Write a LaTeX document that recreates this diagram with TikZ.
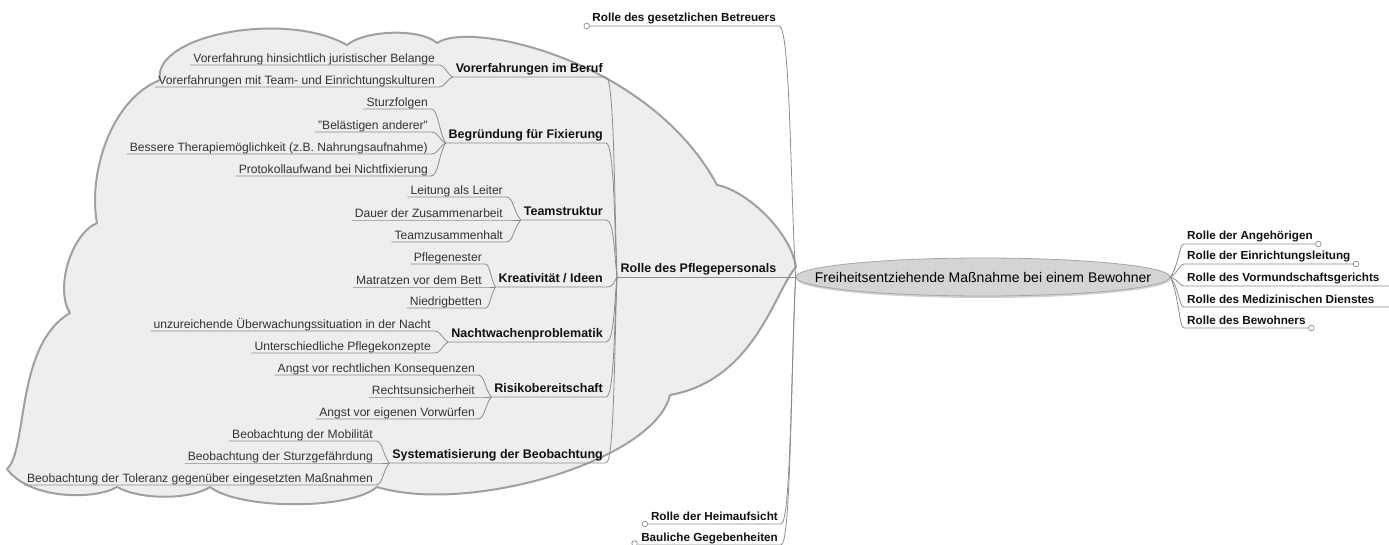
\documentclass[tikz,border=0pt]{standalone}
\usepackage{fontspec}
\setmainfont{Liberation Sans}
\usetikzlibrary{shapes.geometric,calc,shadows}
\definecolor{cloudfill}{HTML}{EEEEEE}
\definecolor{cloudline}{HTML}{A0A0A0}
\definecolor{linec}{HTML}{8C8C8C}
\definecolor{leaftext}{HTML}{333333}
\definecolor{boldtext}{HTML}{111111}
\definecolor{rootfill}{HTML}{D4D4D4}
\definecolor{rootline}{HTML}{A5A5A5}
\tikzset{
  leaf/.style={anchor=south east, inner xsep=3pt, inner ysep=0.2pt, text depth=2.5pt,
    text=leaftext, font=\fontsize{12.1pt}{14pt}\selectfont},
  sub/.style={anchor=south east, inner xsep=3pt, inner ysep=1.3pt, text depth=2.7pt,
    text=boldtext, font=\fontsize{12.5pt}{15pt}\selectfont\bfseries},
  top/.style={inner xsep=3pt, inner ysep=1.3pt, text depth=2.5pt,
    text=boldtext, font=\fontsize{11.7pt}{14pt}\selectfont\bfseries},
  conn/.style={draw=linec, line width=0.8pt},
  mmlink/.style={to path={let \p1=(\tikztostart), \p2=(\tikztotarget),
      \n1={\x1+#1*(\x2-\x1)}, \n2={\y1+0.6*(\y2-\y1)} in
      .. controls (\n1,\y1) and (\n1,\n2) .. (\tikztotarget) \tikztonodes}},
  mmlink/.default=0.5,
  knob/.style={draw=linec, fill=white, line width=0.7pt},
  cloudshape/.style={fill=cloudfill, draw=cloudline, line width=2pt, line join=round},
  rootshape/.style={ellipse, draw=rootline, fill=rootfill, line width=0.8pt,
    minimum width=374pt, minimum height=38pt, inner sep=0pt,
    drop shadow={shadow xshift=0.5pt, shadow yshift=-2pt, fill=black!30, opacity=0.6}},
}
\begin{document}
\begin{tikzpicture}[x=1pt,y=-1pt]
\useasboundingbox (0,0) rectangle (1389,545);

% cloud around the Pflegepersonal subtree
\draw[cloudshape] (7,469)
  .. controls (28,450) and (15,345) .. (70,313)
  .. controls (55,290) and (70,235) .. (97,223)
  .. controls (88,175) and (110,100) .. (160,80)
  .. controls (152,35) and (285,10) .. (347,45)
  .. controls (365,30) and (420,28) .. (437,43)
  .. controls (470,20) and (650,60) .. (717,185)
  .. controls (745,190) and (790,230) .. (796,267)
  .. controls (775,290) and (755,380) .. (670,395)
  .. controls (655,460) and (470,515) .. (377,487)
  .. controls (350,510) and (240,510) .. (210,487)
  .. controls (190,500) and (140,500) .. (117,487)
  .. controls (95,500) and (30,500) .. (7,469) -- cycle;

% central topic
\node[rootshape] (root) at (983,277)
  {\makebox[0pt]{\fontsize{14pt}{16pt}\selectfont Freiheitsentziehende Maßnahme bei einem Bewohner}};

% main branch
\node[sub, inner xsep=3.5pt] (pp) at (780,277) {Rolle des Pflegepersonals};

% subtopics
\node[sub] (gVE) at (606,77)  {Vorerfahrungen im Beruf};
\node[sub] (gBF) at (606,143) {Begründung für Fixierung};
\node[sub] (gTS) at (606,220) {Teamstruktur};
\node[sub] (gKI) at (606,287) {Kreativität / Ideen};
\node[sub] (gNW) at (606,342) {Nachtwachenproblematik};
\node[sub] (gRB) at (606,397) {Risikobereitschaft};
\node[sub] (gSB) at (606,463) {Systematisierung der Beobachtung};

% leaves
\node[leaf] (ve1) at (438,65) {Vorerfahrung hinsichtlich juristischer Belange};
\node[leaf] (ve2) at (438,87) {Vorerfahrungen mit Team- und Einrichtungskulturen};
\node[leaf] (bf1) at (431,109) {Sturzfolgen};
\node[leaf] (bf2) at (431,132) {"Belästigen anderer"};
\node[leaf] (bf3) at (431,154) {Bessere Therapiemöglichkeit (z.B. Nahrungsaufnahme)};
\node[leaf] (bf4) at (431,176) {Protokollaufwand bei Nichtfixierung};
\node[leaf] (ts1) at (506,197) {Leitung als Leiter};
\node[leaf] (ts2) at (506,220) {Dauer der Zusammenarbeit};
\node[leaf] (ts3) at (506,242) {Teamzusammenhalt};
\node[leaf] (ki1) at (485,264) {Pflegenester};
\node[leaf] (ki2) at (485,287) {Matratzen vor dem Bett};
\node[leaf] (ki3) at (485,308) {Niedrigbetten};
\node[leaf] (nw1) at (434,331) {unzureichende Überwachungssituation in der Nacht};
\node[leaf] (nw2) at (434,353) {Unterschiedliche Pflegekonzepte};
\node[leaf] (rb1) at (478,375) {Angst vor rechtlichen Konsequenzen};
\node[leaf] (rb2) at (478,397) {Rechtsunsicherheit};
\node[leaf] (rb3) at (478,419) {Angst vor eigenen Vorwürfen};
\node[leaf] (sb1) at (376,441) {Beobachtung der Mobilität};
\node[leaf] (sb2) at (376,463) {Beobachtung der Sturzgefährdung};
\node[leaf] (sb3) at (376,485) {Beobachtung der Toleranz gegenüber eingesetzten Maßnahmen};

% other top-level topics, left
\node[top, anchor=south east] (betr) at (779,26)  {Rolle des gesetzlichen Betreuers};
\node[top, anchor=south east] (heim) at (781,524) {Rolle der Heimaufsicht};
\node[top, anchor=south east] (baul) at (781,545) {Bauliche Gegebenheiten};

% top-level topics, right
\node[top, anchor=south west] (ang)  at (1184,244) {Rolle der Angehörigen};
\node[top, anchor=south west] (ein)  at (1184,264) {Rolle der Einrichtungsleitung};
\node[top, anchor=south west] (vorm) at (1184,286) {Rolle des Vormundschaftsgerichts};
\node[top, anchor=south west] (med)  at (1184,307) {Rolle des Medizinischen Dienstes};
\node[top, anchor=south west] (bew)  at (1184,328) {Rolle des Bewohners};

% connectors: leaves -> subtopics
\foreach \cc/\pa in {ve1/gVE,ve2/gVE,bf1/gBF,bf2/gBF,bf3/gBF,bf4/gBF,
                   ts1/gTS,ts2/gTS,ts3/gTS,ki1/gKI,ki2/gKI,ki3/gKI,
                   nw1/gNW,nw2/gNW,rb1/gRB,rb2/gRB,rb3/gRB,sb1/gSB,sb2/gSB,sb3/gSB}
  \draw[conn] (\cc.south west) -- (\cc.south east) to[mmlink=0.5] (\pa.south west);

% subtopics -> main branch
\foreach \cc in {gVE,gBF,gTS,gKI,gNW,gRB,gSB}
  \draw[conn] (\cc.south west) -- (\cc.south east) to[mmlink=0.75] (pp.south west);

% main branch -> root
\draw[conn] (pp.south west) -- (root.west);

% left top-level -> root
\foreach \cc in {betr,heim,baul}
  \draw[conn] (\cc.south west) -- (\cc.south east) to[mmlink=0.67] (root.west);

% right top-level -> root
\foreach \cc in {ang,ein,bew}
  \draw[conn] (\cc.south east) -- (\cc.south west) to[mmlink=0.35] (root.east);
\foreach \cc in {vorm,med}
  \draw[conn] ([xshift=20pt]\cc.south east) -- (\cc.south west) to[mmlink=0.35] (root.east);

% collapse knobs
\draw[knob] ([xshift=-2.5pt]betr.south west) circle (2.8pt);
\draw[knob] ([xshift=-3pt]heim.south west) circle (2.8pt);
\draw[knob] ([xshift=-3.5pt,yshift=1.5pt]baul.south west) circle (2.8pt);
\draw[knob] ([xshift=2.5pt]ang.south east) circle (2.8pt);
\draw[knob] ([xshift=2.5pt]ein.south east) circle (2.8pt);
\draw[knob] ([xshift=2.5pt]bew.south east) circle (2.8pt);
\end{tikzpicture}
\end{document}
